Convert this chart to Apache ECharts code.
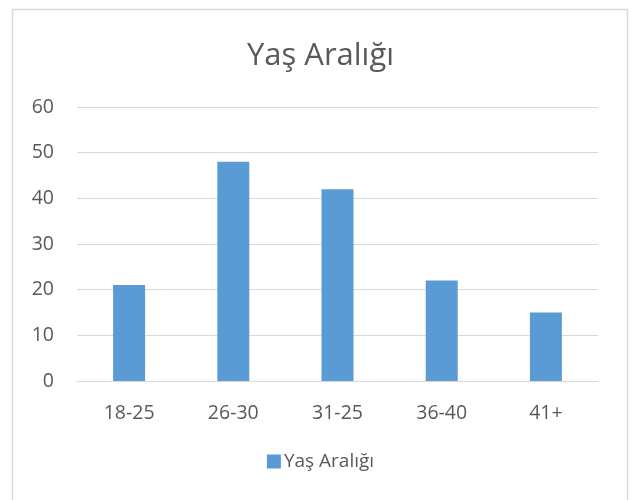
<!DOCTYPE html>
<html>
<head>
<meta charset="utf-8">
<script src="https://cdn.jsdelivr.net/npm/echarts@6/dist/echarts.min.js"></script>
<style>
html,body{margin:0;padding:0;background:#fff;}
#chart{width:641px;height:500px;}
</style>
</head>
<body>
<div id="chart"></div>
<script>
const titleText = "Yaş Aralığı";
const categories = ["18-25", "26-30", "31-25", "36-40", "41+"];
const seriesName = "Yaş Aralığı";
const values = [21, 48, 42, 22, 15];

const chart = echarts.init(document.getElementById('chart'), null, {renderer: 'canvas'});
const font = "'Open Sans', sans-serif";
chart.setOption({
  animation: false,
  backgroundColor: '#fff',
  graphic: [{
    type: 'rect',
    shape: {x: 12.5, y: 9.5, width: 615, height: 500},
    style: {fill: 'none', stroke: '#d9d9d9', lineWidth: 1.5},
    silent: true
  }],
  title: {
    text: titleText,
    left: 'center',
    top: 36,
    textStyle: {fontFamily: font, fontSize: 31, fontWeight: 'normal', color: '#595959'}
  },
  legend: {
    data: [seriesName],
    bottom: 24,
    left: 'center',
    itemWidth: 14,
    itemHeight: 14,
    itemGap: 5,
    icon: 'rect',
    textStyle: {fontFamily: font, fontSize: 19, color: '#595959', padding: [0, 0, 0, -2]}
  },
  grid: {left: 77, right: 43, top: 107, bottom: 119, containLabel: false},
  xAxis: {
    type: 'category',
    data: categories,
    axisLine: {lineStyle: {color: '#d9d9d9', width: 1}},
    axisTick: {show: false},
    axisLabel: {fontFamily: font, fontSize: 19.5, color: '#595959', margin: 22}
  },
  yAxis: {
    type: 'value',
    min: 0,
    max: 60,
    interval: 10,
    axisLine: {show: false},
    axisTick: {show: false},
    splitLine: {lineStyle: {color: '#d9d9d9', width: 1}},
    axisLabel: {fontFamily: font, fontSize: 19.5, color: '#595959', margin: 23}
  },
  series: [{
    name: seriesName,
    type: 'bar',
    data: values,
    barWidth: 32,
    itemStyle: {color: '#5b9bd5'}
  }]
});
</script>
</body>
</html>
